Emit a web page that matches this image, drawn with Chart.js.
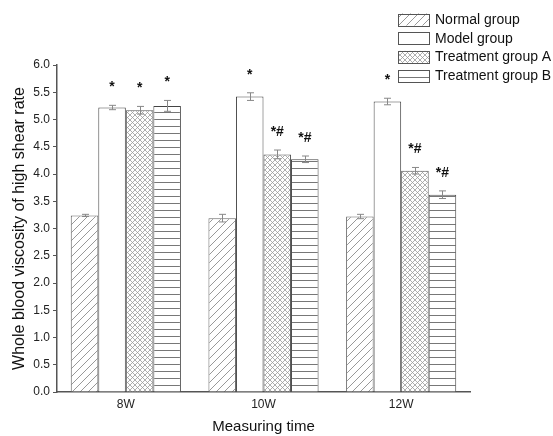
<!DOCTYPE html>
<html>
<head>
<meta charset="utf-8">
<script src="https://cdn.jsdelivr.net/npm/chart.js@4.4.1/dist/chart.umd.min.js"></script>
<style>
  html, body { margin: 0; padding: 0; background: #fff; }
  canvas { display: block; }
</style>
</head>
<body>
<canvas id="chart" width="553" height="436"></canvas>
<script>
// time points and groups
const categories = ['8W', '10W', '12W'];
const groupNames = ['Normal group', 'Model group', 'Treatment group A', 'Treatment group B'];

// means and error (±) per group
const normalMean = [3.24, 3.19, 3.22];
const normalErr = [0.02, 0.07, 0.04];
const modelMean = [5.22, 5.42, 5.33];
const modelErr = [0.04, 0.07, 0.06];
const groupAMean = [5.17, 4.36, 4.06];
const groupAErr = [0.07, 0.08, 0.06];
const groupBMean = [5.25, 4.27, 3.62];
const groupBErr = [0.10, 0.06, 0.07];

// significance marks above bars
const normalMarks = ['', '', ''];
const modelMarks = ['*', '*', '*'];
const groupAMarks = ['*', '*#', '*#'];
const groupBMarks = ['*', '*#', '*#'];

const FONT = '"Liberation Sans", Arial, sans-serif';

function makePattern(kind) {
  const c = document.createElement('canvas');
  const g = c.getContext('2d');
  if (kind === 'diag') {
    c.width = 8; c.height = 8;
    g.fillStyle = '#fff'; g.fillRect(0, 0, 8, 8);
    g.strokeStyle = '#999'; g.lineWidth = 1;
    g.beginPath();
    g.moveTo(0, 8); g.lineTo(8, 0);
    g.moveTo(-1, 1); g.lineTo(1, -1);
    g.moveTo(7, 9); g.lineTo(9, 7);
    g.stroke();
  } else if (kind === 'cross') {
    c.width = 5; c.height = 5;
    g.fillStyle = '#fff'; g.fillRect(0, 0, 5, 5);
    g.strokeStyle = '#9a9a9a'; g.lineWidth = 0.8;
    g.beginPath();
    g.moveTo(0, 0); g.lineTo(5, 5);
    g.moveTo(0, 5); g.lineTo(5, 0);
    g.stroke();
  } else if (kind === 'horiz') {
    c.width = 4; c.height = 7;
    g.fillStyle = '#fff'; g.fillRect(0, 0, 4, 7);
    g.fillStyle = '#777'; g.fillRect(0, 0, 4, 1);
  } else {
    c.width = 2; c.height = 2;
    g.fillStyle = '#fff'; g.fillRect(0, 0, 2, 2);
  }
  return g.createPattern(c, 'repeat');
}

const series = [
  { label: groupNames[0], data: normalMean, err: normalErr, marks: normalMarks, fill: makePattern('diag'), border: '#666' },
  { label: groupNames[1], data: modelMean, err: modelErr, marks: modelMarks, fill: makePattern('none'), border: '#444' },
  { label: groupNames[2], data: groupAMean, err: groupAErr, marks: groupAMarks, fill: makePattern('cross'), border: '#555' },
  { label: groupNames[3], data: groupBMean, err: groupBErr, marks: groupBMarks, fill: makePattern('horiz'), border: '#444' }
];

// error bars with caps plus the significance text
const errorBarPlugin = {
  id: 'errorBars',
  afterDatasetsDraw(chart) {
    const ctx = chart.ctx;
    const y = chart.scales.y;
    ctx.save();
    chart.data.datasets.forEach((ds, i) => {
      const meta = chart.getDatasetMeta(i);
      meta.data.forEach((bar, j) => {
        const v = ds.data[j], e = ds.err[j];
        const yTop = y.getPixelForValue(v + e);
        const yBot = y.getPixelForValue(v - e);
        const x = Math.round(bar.x) + 0.5;
        ctx.strokeStyle = '#888';
        ctx.lineWidth = 1;
        ctx.beginPath();
        ctx.moveTo(x, yTop); ctx.lineTo(x, yBot);
        ctx.moveTo(x - 3.5, yTop); ctx.lineTo(x + 3.5, yTop);
        ctx.moveTo(x - 3.5, yBot); ctx.lineTo(x + 3.5, yBot);
        ctx.stroke();
        const mark = ds.marks[j];
        if (mark) {
          ctx.fillStyle = '#111';
          ctx.font = 'bold 14px ' + FONT;
          ctx.textAlign = 'center';
          ctx.textBaseline = 'middle';
          ctx.fillText(mark, bar.x, yTop - 18);
        }
      });
    });
    ctx.restore();
  }
};

// legend stacked in the top-right corner
const sideLegendPlugin = {
  id: 'sideLegend',
  afterDraw(chart) {
    const ctx = chart.ctx;
    ctx.save();
    chart.data.datasets.forEach((ds, i) => {
      const cy = 19.5 + i * 18.7;
      const bx = 398.5, bw = 31, bh = 12;
      ctx.fillStyle = ds.backgroundColor;
      ctx.fillRect(bx, cy - bh / 2, bw, bh);
      ctx.strokeStyle = '#555';
      ctx.lineWidth = 1;
      ctx.strokeRect(bx, Math.round(cy - bh / 2) + 0.5, bw, bh);
      ctx.fillStyle = '#111';
      ctx.font = '14px ' + FONT;
      ctx.textAlign = 'left';
      ctx.textBaseline = 'middle';
      ctx.fillText(ds.label, 435, cy + 0.5);
    });
    ctx.restore();
  }
};

new Chart(document.getElementById('chart'), {
  type: 'bar',
  data: {
    labels: categories,
    datasets: series.map(s => ({
      label: s.label,
      data: s.data,
      err: s.err,
      marks: s.marks,
      backgroundColor: s.fill,
      borderColor: s.border,
      borderWidth: 1,
      categoryPercentage: 0.8,
      barPercentage: 1.0
    }))
  },
  options: {
    responsive: false,
    animation: false,
    devicePixelRatio: 1,
    layout: { padding: { top: 65, right: 83, left: 0, bottom: 0 } },
    plugins: {
      legend: { display: false },
      tooltip: { enabled: false }
    },
    scales: {
      x: {
        grid: { display: false, drawTicks: false },
        border: { display: true, color: '#555', width: 1.5 },
        ticks: { color: '#222', font: { family: FONT, size: 12 }, padding: 5 },
        title: { display: true, text: 'Measuring time', color: '#111', font: { family: FONT, size: 15 }, padding: { top: 0, bottom: 0 } },
        afterFit: s => { s.height = 44; }
      },
      y: {
        min: 0,
        max: 6,
        grid: { drawOnChartArea: false, drawTicks: true, tickLength: 4, color: '#555' },
        border: { display: true, color: '#555', width: 1.5 },
        ticks: {
          stepSize: 0.5,
          color: '#222',
          padding: 3,
          font: { family: FONT, size: 12 },
          callback: v => Number(v).toFixed(1)
        },
        title: { display: true, text: 'Whole blood viscosity of high shear rate', color: '#111', font: { family: FONT, size: 16 }, padding: { top: 10, bottom: 0 } },
        afterFit: s => { s.width = 57; }
      }
    }
  },
  plugins: [errorBarPlugin, sideLegendPlugin]
});
</script>
</body>
</html>
